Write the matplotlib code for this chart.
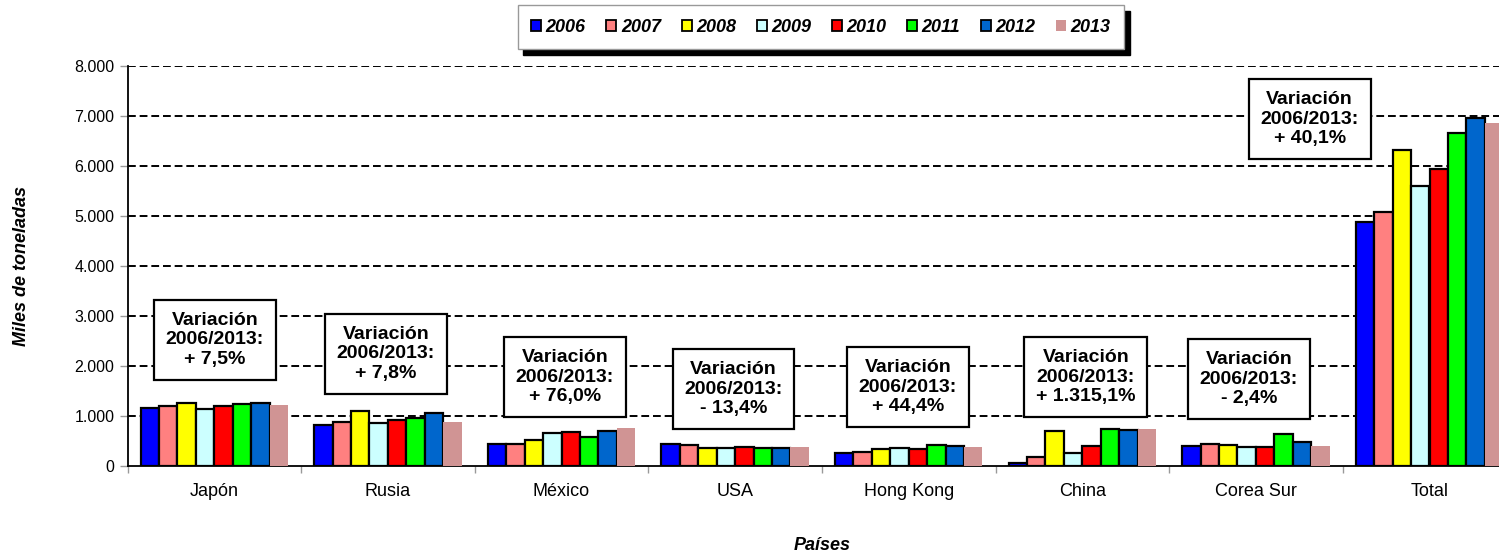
import matplotlib
matplotlib.use("Agg")
import matplotlib.pyplot as plt
import numpy as np

plt.rcParams['font.family'] = ['Liberation Sans', 'DejaVu Sans']

countries = ["Japón", "Rusia", "México", "USA", "Hong Kong", "China", "Corea Sur", "Total"]
years = ["2006", "2007", "2008", "2009", "2010", "2011", "2012", "2013"]

v2006 = [1153, 827, 433, 433, 268, 53, 407, 4887]
v2007 = [1207, 887, 433, 413, 287, 180, 440, 5073]
v2008 = [1260, 1100, 527, 367, 340, 707, 420, 6320]
v2009 = [1133, 867, 667, 367, 367, 253, 387, 5607]
v2010 = [1193, 913, 673, 380, 347, 407, 373, 5940]
v2011 = [1240, 967, 587, 353, 427, 747, 633, 6660]
v2012 = [1253, 1067, 700, 360, 400, 727, 487, 6960]
v2013 = [1227, 890, 765, 373, 387, 740, 395, 6853]
series = [v2006, v2007, v2008, v2009, v2010, v2011, v2012, v2013]

variations = ["+ 7,5%", "+ 7,8%", "+ 76,0%", "- 13,4%", "+ 44,4%", "+ 1.315,1%", "- 2,4%", "+ 40,1%"]
box_x = [0.004, 0.989, 2.02, 2.99, 3.995, 5.02, 5.96, 6.31]
box_y = [2520, 2240, 1780, 1540, 1580, 1780, 1740, 6940]

colors = ["#0000FF", "#FF8080", "#FFFF00", "#CCFFFF", "#FF0000", "#00FF00", "#0066CC", "#D09494"]

W, H = 1499, 553
fig = plt.figure(figsize=(W / 100, H / 100), dpi=100)
ax_left = 127.5 / W
ax_bottom = (H - 466) / H
ax_w = 8 * 173.6 / W
ax_h = 400 / H
ax = fig.add_axes([ax_left, ax_bottom, ax_w, ax_h])

x = np.arange(len(countries))
bw = 0.106
n = len(series)
for i, (vals, col, yr) in enumerate(zip(series, colors, years)):
    off = (i - (n - 1) / 2) * bw
    if i == n - 1:
        ax.bar(x + off, vals, bw, color=col, edgecolor='none', label=yr, zorder=3)
    else:
        ax.bar(x + off, vals, bw, color=col, edgecolor='black', linewidth=1.6, label=yr, zorder=3)

ax.set_xlim(-0.5, len(countries) - 0.5)
ax.set_ylim(0, 8000)
ax.set_yticks(np.arange(0, 8001, 1000))
ax.set_yticklabels(["0" if v == 0 else f"{v // 1000}.000" for v in range(0, 8001, 1000)], fontsize=11.5)
for yv in range(1000, 8001, 1000):
    ax.axhline(yv, color='black', linestyle=(0, (4, 2)), linewidth=1.4, zorder=1)

ax.set_xticks(x)
ax.set_xticklabels(countries, fontsize=13)
ax.tick_params(axis='x', which='major', length=0, pad=12)
ax.set_xticks(np.arange(0, len(countries) + 1) - 0.5, minor=True)
ax.tick_params(axis='x', which='minor', length=5, color='#999999', width=1)
ax.tick_params(axis='y', length=6, color='#999999', width=1)

for s in ['top', 'right']:
    ax.spines[s].set_visible(False)
ax.spines['left'].set_linewidth(1.3)
ax.spines['bottom'].set_linewidth(1.3)

ax.set_ylabel("Miles de toneladas", fontsize=13, fontweight='bold', style='italic', labelpad=32)
fig.text((127.5 + 8 * 173.6 / 2) / W, (H - 545) / H, "Países", fontsize=13, fontweight='bold',
         style='italic', ha='center', va='center')

for bx, by, txt in zip(box_x, box_y, variations):
    ax.text(bx, by, f"Variación\n2006/2013:\n{txt}", ha='center', va='center', fontsize=14,
            fontweight='bold', linespacing=1.2, zorder=5,
            bbox=dict(boxstyle='square,pad=0.6', facecolor='white', edgecolor='black', linewidth=1.6))

handles, labels = ax.get_legend_handles_labels()
leg = fig.legend(handles, labels, loc='center', bbox_to_anchor=(821 / W, (H - 27) / H), ncol=8,
                 frameon=True, fancybox=False, shadow={'color': 'black', 'alpha': 1, 'ox': 4, 'oy': -4},
                 prop={'size': 13, 'weight': 'bold', 'style': 'italic'},
                 handlelength=0.55, handleheight=0.55, handletextpad=0.25, columnspacing=1.15,
                 borderpad=0.75, borderaxespad=0, edgecolor='#999999')
leg.get_frame().set_linewidth(1)
for h in leg.legend_handles:
    h.set_edgecolor('black')
    h.set_linewidth(1.3)
leg.legend_handles[-1].set_edgecolor('none')

fig.savefig("out.png", dpi=100)
